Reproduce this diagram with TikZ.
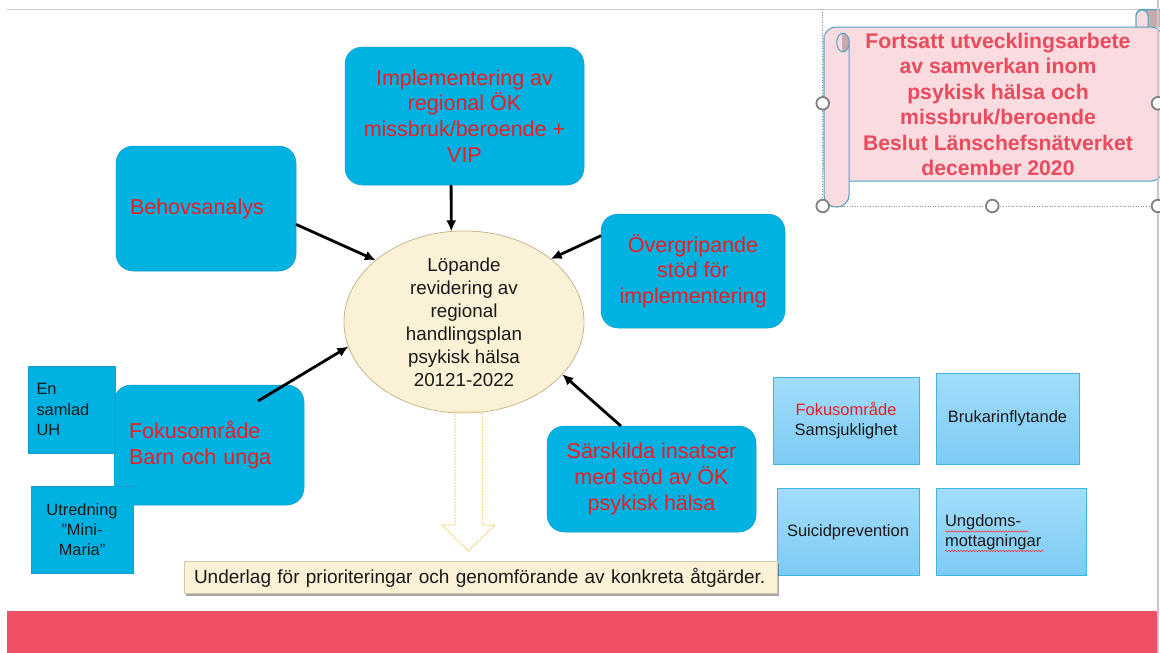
\documentclass[tikz,border=0pt]{standalone}
\usepackage{fontspec}
\setmainfont{Liberation Sans}
\usetikzlibrary{arrows.meta,shapes.geometric,shadows,decorations.pathmorphing,calc}
\definecolor{cyanbox}{HTML}{00B2E1}
\definecolor{cyanline}{HTML}{1A9CCB}
\definecolor{redtxt}{HTML}{EC1C24}
\definecolor{gtop}{HTML}{A2DDFA}
\definecolor{gbot}{HTML}{7DCBF4}
\definecolor{gborder}{HTML}{3DB6E6}
\definecolor{band}{HTML}{F05063}
\definecolor{cream}{HTML}{FBF1D6}
\definecolor{ellborder}{HTML}{C9B58E}
\definecolor{uborder}{HTML}{D2C8B0}
\definecolor{hollowc}{HTML}{F7D98A}
\definecolor{framegray}{HTML}{C8C8C8}
\definecolor{scrollfill}{HTML}{FADBDF}
\definecolor{scrollline}{HTML}{4AA3C4}
\definecolor{scrolldark}{HTML}{C8A9AE}
\definecolor{scrolltext}{HTML}{E94B5E}
\begin{document}
\begin{tikzpicture}[x=1pt,y=-1pt,
  rbox/.style={draw=cyanline, line width=0.5pt, fill=cyanbox, rounded corners=17pt,
    text=redtxt, font=\fontsize{21.5}{25.6}\selectfont, outer sep=0pt},
  sbox/.style={draw=cyanline, line width=0.6pt, fill=cyanbox, text=black!90,
    font=\fontsize{16.4}{20.2}\selectfont, outer sep=0pt},
  gbox/.style={draw=gborder, line width=0.8pt, top color=gtop, bottom color=gbot,
    text=black!90, font=\fontsize{16.5}{19.8}\selectfont, outer sep=0pt},
  conn/.style={draw=black, line width=2.8pt, -{Latex[length=11pt,width=10pt]}},
  sc/.style={draw=scrollline, line width=1pt},
  handle/.style={draw=black!50, line width=1.8pt, fill=white},
  squig/.style={draw=red!80, line width=0.5pt, decorate,
    decoration={snake, amplitude=0.8pt, segment length=3pt}}]
\useasboundingbox (0,0) rectangle (1160,653);
\fill[white] (0,0) rectangle (1160,653);

% slide frame
\draw[framegray, line width=1.2pt] (7,9.3) -- (1160,9.3);
\fill[band] (7,611) rectangle (1157,653);

% scroll (top right)
\draw[sc, fill=scrolldark, rounded corners=6pt] (1136,27) -- (1136,9.5) -- (1164,9.5) -- (1164,27);
\draw[sc, fill=scrollfill, rounded corners=6pt] (1136,27) -- (1136,10) -- (1148,10) -- (1148,27);
\draw[sc, fill=scrollfill, rounded corners=12pt] (824,27) rectangle (1163,181);
\draw[sc, fill=scrollfill, rounded corners=12pt] (849,45) -- (849,207) -- (824,207) -- (824,35);
\fill[scrolldark] (843,42.5) ellipse [x radius=6.3pt, y radius=9.3pt];
\begin{scope}
  \clip (834,30) rectangle (842,56);
  \fill[scrollfill] (843,42.5) ellipse [x radius=6.3pt, y radius=9.3pt];
\end{scope}
\draw[sc] (843,42.5) ellipse [x radius=6.3pt, y radius=9.3pt];
\node[font=\bfseries\fontsize{21.2}{25.4}\selectfont, text=scrolltext, align=center, inner sep=0pt]
  (sct) at (998,104.5) {Fortsatt utvecklingsarbete\\av samverkan inom\\psykisk hälsa och\\missbruk/beroende\\Beslut Länschefsnätverket\\december 2020};

% central ellipse
\node[ellipse, draw=ellborder, line width=0.8pt, fill=cream, minimum width=240pt, minimum height=174pt,
  align=center, inner sep=0pt, outer sep=0pt, text=black!90, font=\fontsize{18.8}{23}\selectfont]
  (ell) at (464,322) {Löpande\\revidering av\\regional\\handlingsplan\\psykisk hälsa\\20121-2022};

% rounded boxes
\node[rbox, minimum width=180pt, minimum height=125pt, text width=152pt, inner xsep=14pt, align=left]
  (beh) at (206,208.5) {Behovsanalys};
\node[rbox, minimum width=239pt, minimum height=138pt, align=center]
  (impl) at (464.5,116) {Implementering av\\regional ÖK\\missbruk/beroende +\\VIP};
\node[rbox, minimum width=184pt, minimum height=114pt, align=center]
  (ov) at (693,271) {Övergripande\\stöd för\\implementering};
\node[rbox, minimum width=190pt, minimum height=120pt, text width=160pt, inner xsep=15pt, align=left]
  (fok) at (209,445) {Fokusområde\\Barn och unga};
\node[rbox, minimum width=209pt, minimum height=106pt, align=center]
  (sar) at (651.5,479) {Särskilda insatser\\med stöd av ÖK\\psykisk hälsa};

% small boxes on the left
\node[sbox, minimum width=87pt, minimum height=87pt, text width=70pt, inner xsep=8.5pt, align=left]
  (uh) at (71.5,409.5) {En\\samlad\\UH};
\node[sbox, minimum width=102pt, minimum height=87pt, align=center]
  (mm) at (82,529.5) {Utredning\\”Mini-\\Maria”};

% grid boxes on the right
\node[gbox, minimum width=146pt, minimum height=87pt, align=center]
  (sams) at (846,420.5) {\textcolor{redtxt}{Fokusområde}\\Samsjuklighet};
\node[gbox, minimum width=143pt, minimum height=91pt, align=center]
  (bruk) at (1007.5,418.5) {Brukarinflytande};
\node[gbox, minimum width=142pt, minimum height=87pt, align=center]
  (sui) at (848,532) {Suicidprevention};
\node[gbox, minimum width=150pt, minimum height=87pt, text width=132pt, inner xsep=9pt, align=left]
  (ung) at (1011,532) {Ungdoms-\\mottagningar};
\draw[squig] (945,531.5) -- (1028,531.5);
\draw[squig] (945,551) -- (1044,551);

% bottom text box
\node[draw=uborder, line width=0.5pt, fill=cream, minimum width=593pt, minimum height=32pt,
  text width=573pt, inner xsep=10pt, align=left, text=black!90, font=\fontsize{19}{22}\selectfont,
  drop shadow={shadow xshift=1.5pt, shadow yshift=-2.5pt, opacity=0.35, fill=black}]
  (und) at (480.5,577.5) {Underlag för prioriteringar och genomförande av konkreta åtgärder.};

% hollow dashed arrow
\draw[hollowc, dashed, dash pattern=on 2pt off 1.2pt, line width=1.3pt, line join=miter]
  (455,411.7) -- (482.3,411.7) -- (482.3,525) -- (495,525) -- (468.5,551) -- (442,525) -- (455,525) -- cycle;

% connectors
\coordinate (fokA) at ([shift={(49,-44)}]fok.center);
\draw[conn] (beh.-10) -- (ell.145);
\draw[conn] (impl.-101) -- (ell.98);
\draw[conn] (ov.159) -- (ell.36);
\draw[conn] (fokA) -- (ell.192);
\draw[conn] (sar.120) -- (ell.-28);

% right frame line
\draw[framegray, line width=2pt] (1157.5,0) -- (1157.5,653);

% selection box and handles
\draw[black!45, dotted, line width=0.6pt] (822.7,9.3) -- (822.7,206) -- (1158,206);
\foreach \p in {(822.7,103.3),(822.7,206),(992.3,206),(1158,103.3),(1158,206)}
  \draw[handle] \p circle (6.3pt);
\end{tikzpicture}
\end{document}
